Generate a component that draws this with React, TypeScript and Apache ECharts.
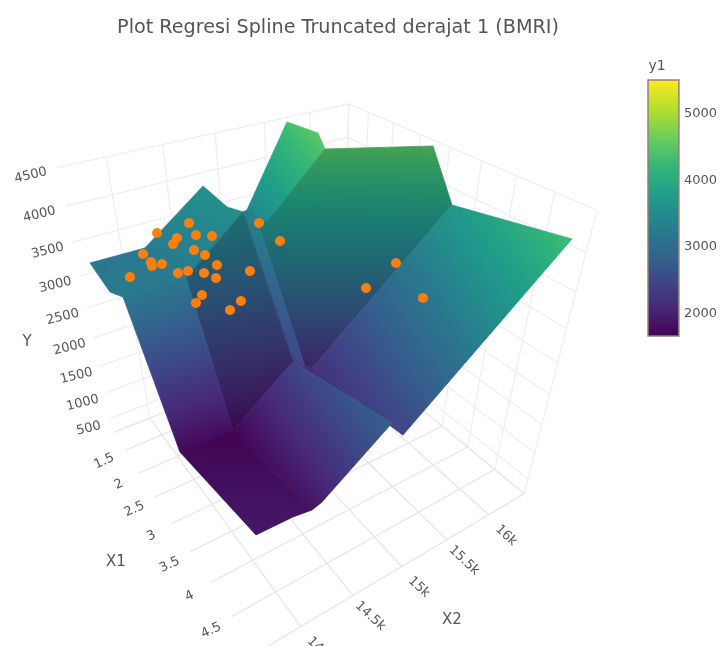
import React, { useEffect, useRef } from "react";
import * as echarts from "echarts";

const chartTitle = "Plot Regresi Spline Truncated derajat 1 (BMRI)";
const x1Ticks = [1.5, 2, 2.5, 3, 3.5, 4, 4.5, 5];
const x1TickLabels = ["1.5", "2", "2.5", "3", "3.5", "4", "4.5"];
const x2Ticks = [14000, 14500, 15000, 15500, 16000];
const x2TickLabels = ["14k", "14.5k", "15k", "15.5k", "16k"];
const yTicks = [500, 1000, 1500, 2000, 2500, 3000, 3500, 4000, 4500];
const colorbarTicks = [2000, 3000, 4000, 5000];
const colorMin = 1655;
const colorMax = 5480;
const viridis = ["#440154", "#482878", "#3e4989", "#31688e", "#26828e", "#1f9e89", "#35b779", "#6ece58", "#b5de2b", "#fde725"];

// Axis box in data units
const x1Range = [1.08, 5.0];
const x2Range = [13600, 16450];
const yRange = [210, 4500];

// Fitted surface: breakpoints of the spline
const surfaceX1 = [1.168, 1.846, 2.026, 3.316, 4.852, 1.264, 2.11, 3.281, 4.824, 0.769, 1.062, 1.391, 3.297, 4.951, 1.604, 3.252, 3.254, 4.956, 1.283, 0.882, 1.453, 1.955, 2.509, 3.114, 4.944, 1.801, 4.815, 4.892];
const surfaceX2 = [13688, 13673, 13732, 13683, 13721, 14168, 14263, 14168, 14186, 14944, 15072, 15110, 14749, 14777, 15166, 14888, 14968, 14887, 15195, 15833, 15903, 15725, 16606, 16476, 16308, 15186, 14031, 14235];
const surfaceY = [3200, 3150, 3150, 1750, 1950, 3250, 3200, 1700, 1850, 3650, 3400, 3450, 2400, 2750, 3400, 2200, 2150, 2500, 3400, 4350, 4350, 4350, 4300, 3750, 4200, 3450, 1880, 2000];

// Facets of the surface, far to near: vertex numbers, y1 colour values, light factor
const facetVertices = [
  [25, 18, 19, 20, 21],
  [14, 11, 18, 25],
  [16, 15, 14, 25, 21, 22, 23],
  [15, 16, 17, 13, 12],
  [23, 24, 17, 16],
  [6, 5, 9, 10, 11],
  [2, 1, 0, 5, 6],
  [11, 14, 15, 12],
  [6, 11, 12, 7],
  [2, 6, 7, 3],
  [7, 12, 13, 27, 8],
  [3, 7, 8, 26, 4],
];
const facetColors = [
  [3480, 3450, 4320, 4480, 4450],
  [3400, 3400, 3450, 3480],
  [2150, 2200, 3600, 3650, 4500, 4500, 3800],
  [2150, 2150, 2500, 2700, 2300],
  [3750, 4250, 2500, 2150],
  [3250, 3200, 3650, 3500, 3500],
  [3200, 3200, 3200, 3200, 3250],
  [3300, 3300, 2450, 2450],
  [3100, 3400, 2300, 1700],
  [3150, 3200, 1750, 1750],
  [1700, 2450, 2850, 1950, 1880],
  [1730, 1680, 1850, 1880, 1930],
];
const facetLight = [1, 0.95, 0.82, 0.95, 1, 1, 1, 1.0, 0.8, 1, 1, 0.97];

// Observed points (BMRI)
const pointX1 = [1.431, 0.987, 0.552, 1.232, 1.331, 1.354, 1.662, 1.685, 0.952, 0.829, 0.52, 0.891, 1.033, 1.248, 1.442, 1.75, 1.835, 2.019, 2.099, 2.269, 2.383, 2.721, 2.626, 1.047, 1.646, 3.181, 2.919, 3.707];
const pointX2 = [13954, 14213, 14492, 14213, 14191, 14280, 14330, 14418, 14524, 14607, 14843, 14784, 14902, 14634, 14675, 14679, 14519, 14566, 14870, 14339, 14242, 14423, 14563, 15415, 15386, 15538, 16019, 15830];
const pointY = [3000, 3000, 3000, 3000, 3000, 3000, 3000, 3000, 3000, 3000, 3000, 3000, 3000, 3000, 3000, 3000, 3000, 3000, 3000, 3000, 3000, 3000, 3000, 3000, 3000, 3000, 3000, 3000];

// Camera calibration: [x1, x2, y] of box landmarks → screen pixel
const [A1, B1] = x1Range;
const [A2, B2] = x2Range;
const F = yRange[0];
const calib: number[][] = [
  [A1, A2, 4500, 57, 167], [A1, A2, 4000, 65, 207], [A1, A2, 3500, 73, 242], [A1, A2, 3000, 80, 276], [A1, A2, 2500, 87, 307],
  [A1, A2, 2000, 93, 338], [A1, A2, 1500, 100, 367], [A1, A2, 1000, 106, 393], [A1, A2, 500, 112, 418],
  [1.5, A2, F, 123, 450], [2, A2, F, 137, 473], [2.5, A2, F, 155, 497], [3, A2, F, 172, 523], [3.5, A2, F, 190, 552], [4, A2, F, 210, 583], [4.5, A2, F, 233, 617],
  [B1, 14000, F, 300, 627], [B1, 14500, F, 355, 595], [B1, 15000, F, 403, 567], [B1, 15500, F, 447, 540], [B1, 16000, F, 488, 515], [B1, B2, F, 523, 493],
  [A1, B2, 4500, 349, 104], [B1, B2, 4500, 597, 210], [A1, B2, 4000, 349, 138], [B1, B2, 4000, 585, 252],
];

function gauss(M: number[][]): number[] {
  const n = M.length;
  for (let c = 0; c < n; c++) {
    let p = c;
    for (let r = c + 1; r < n; r++) if (Math.abs(M[r][c]) > Math.abs(M[p][c])) p = r;
    [M[c], M[p]] = [M[p], M[c]];
    for (let r = 0; r < n; r++)
      if (r !== c) {
        const f = M[r][c] / M[c][c];
        for (let k = c; k <= n; k++) M[r][k] -= f * M[c][k];
      }
  }
  return M.map((r, i) => r[n] / r[i]);
}

function solveCamera(): number[] {
  const n = 11;
  const M = Array.from({ length: n }, () => new Array(n + 1).fill(0));
  const add = (r: number[], t: number) => {
    for (let i = 0; i < n; i++) {
      for (let j = 0; j < n; j++) M[i][j] += r[i] * r[j];
      M[i][n] += r[i] * t;
    }
  };
  calib.forEach(([a, b, c, px, py]) => {
    const x = a, y = b / 1000, z = c / 1000, u = px / 100, v = py / 100;
    add([x, y, z, 1, 0, 0, 0, 0, -u * x, -u * y, -u * z], u);
    add([0, 0, 0, 0, x, y, z, 1, -v * x, -v * y, -v * z], v);
  });
  return gauss(M);
}
const cam = solveCamera();
const project = (x1: number, x2: number, y: number): [number, number] => {
  const x = x1, b = x2 / 1000, z = y / 1000;
  const w = cam[8] * x + cam[9] * b + cam[10] * z + 1;
  return [(100 * (cam[0] * x + cam[1] * b + cam[2] * z + cam[3])) / w, (100 * (cam[4] * x + cam[5] * b + cam[6] * z + cam[7])) / w];
};

const hexRgb = (h: string) => [parseInt(h.slice(1, 3), 16), parseInt(h.slice(3, 5), 16), parseInt(h.slice(5, 7), 16)];
const stops = viridis.map(hexRgb);
const colorOf = (val: number, light: number) => {
  const t = Math.min(1, Math.max(0, (val - colorMin) / (colorMax - colorMin))) * (stops.length - 1);
  const i = Math.min(stops.length - 2, Math.floor(t));
  const f = t - i;
  const ch = (k: number) => Math.min(255, Math.round((stops[i][k] * (1 - f) + stops[i + 1][k] * f) * light));
  return `rgb(${ch(0)},${ch(1)},${ch(2)})`;
};

// A flat facet's colour is close to linear on screen: fit that plane, fill with one linear gradient
function facetFill(pts: number[][], vals: number[], light: number) {
  const m = [0, 0, 0, 0];
  const M = [m.slice(), m.slice(), m.slice()];
  const ox = pts[0][0], oy = pts[0][1];
  pts.forEach((p, i) => {
    const r = [1, (p[0] - ox) / 100, (p[1] - oy) / 100];
    for (let a = 0; a < 3; a++) {
      for (let b = 0; b < 3; b++) M[a][b] += r[a] * r[b];
      M[a][3] += r[a] * vals[i];
    }
  });
  const [c0, c1, c2] = gauss(M);
  const gx = c1 / 100, gy = c2 / 100;
  const g2 = gx * gx + gy * gy;
  const fitted = pts.map((p) => c0 + gx * (p[0] - ox) + gy * (p[1] - oy));
  const vmin = Math.min(...fitted), vmax = Math.max(...fitted);
  const N = 12;
  return {
    type: "linear",
    global: true,
    x: ox + (gx * (vmin - c0)) / g2,
    y: oy + (gy * (vmin - c0)) / g2,
    x2: ox + (gx * (vmax - c0)) / g2,
    y2: oy + (gy * (vmax - c0)) / g2,
    colorStops: Array.from({ length: N + 1 }, (_, i) => ({ offset: i / N, color: colorOf(vmin + ((vmax - vmin) * i) / N, light) })),
  };
}

function renderFacet(params: any, api: any) {
  const verts = facetVertices[params.dataIndex];
  const pts = verts.map((v) => api.coord(project(surfaceX1[v], surfaceX2[v], surfaceY[v])));
  const fill = facetFill(pts, facetColors[params.dataIndex], facetLight[params.dataIndex]);
  return { type: "polygon", shape: { points: pts }, style: { fill, stroke: fill, lineWidth: 0.8, lineJoin: "round" }, silent: true };
}

// Box grid lines: [x1, x2, y, x1, x2, y]
const top = yRange[1];
const gridLines: number[][] = [];
[x1Range[0], ...x1Ticks].forEach((t) => {
  gridLines.push([t, A2, F, t, B2, F]);
  gridLines.push([t, B2, F, t, B2, top]);
});
[...x2Ticks, x2Range[1]].forEach((t) => {
  gridLines.push([A1, t, F, B1, t, F]);
  gridLines.push([A1, t, F, A1, t, top]);
});
yTicks.forEach((t) => {
  gridLines.push([A1, A2, t, A1, B2, t]);
  gridLines.push([A1, B2, t, B1, B2, t]);
});
function renderGridLine(_: any, api: any) {
  const a = api.coord(project(api.value(0), api.value(1), api.value(2)));
  const b = api.coord(project(api.value(3), api.value(4), api.value(5)));
  const onFloor = api.value(2) === F && api.value(5) === F;
  return { type: "line", shape: { x1: a[0], y1: a[1], x2: b[0], y2: b[1] }, style: { stroke: onFloor ? "#e8e8e8" : "#eeeeee", lineWidth: onFloor ? 1.4 : 1.2 }, silent: true };
}

// Tick labels anchored to the projected tick with an offset off the axis
type TickLabel = { at: [number, number, number]; text: string; dx: number; dy: number; deg: number };
const tickLabels: TickLabel[] = [
  ...yTicks.map((t) => ({ at: [A1, A2, t] as [number, number, number], text: String(t), dx: -27 + ((4500 - t) / 4000) * 5, dy: 7 + ((4500 - t) / 4000) * 2, deg: 14 })),
  ...x1TickLabels.map((s, i) => ({ at: [x1Ticks[i], A2, F] as [number, number, number], text: s, dx: -21, dy: 10 + i * 0.5, deg: 25 })),
  ...x2Ticks.map((t, i) => ({ at: [B1, t, F] as [number, number, number], text: x2TickLabels[i], dx: 18, dy: 20, deg: -43 })),
];
function renderTick(params: any, api: any) {
  const l = tickLabels[params.dataIndex];
  const p = api.coord(project(l.at[0], l.at[1], l.at[2]));
  return {
    type: "text",
    x: p[0] + l.dx,
    y: p[1] + l.dy,
    rotation: (l.deg * Math.PI) / 180,
    style: { text: l.text, fill: "#555", font: "13px 'DejaVu Sans'", align: "center", verticalAlign: "middle" },
    silent: true,
  };
}

function renderColorbar(_: any, api: any) {
  const a = api.coord([0, colorMax]);
  const b = api.coord([1, colorMin]);
  return {
    type: "rect",
    shape: { x: a[0], y: a[1], width: b[0] - a[0], height: b[1] - a[1] },
    style: {
      fill: { type: "linear", x: 0, y: 1, x2: 0, y2: 0, colorStops: viridis.map((c, i) => ({ offset: i / (viridis.length - 1), color: c })) },
      stroke: "#8c8478",
      lineWidth: 1.5,
    },
    silent: true,
  };
}

const axisTitle = (text: string, x: number, y: number, size = 15) => ({
  type: "text" as const,
  x,
  y,
  silent: true,
  style: { text, fill: "#555", font: `${size}px 'DejaVu Sans'`, align: "center", verticalAlign: "middle" },
});

export default function App() {
  const ref = useRef<HTMLDivElement>(null);
  useEffect(() => {
    const chart = echarts.init(ref.current!, undefined, { renderer: "svg" });
    chart.setOption({
      animation: false,
      backgroundColor: "#fff",
      title: {
        text: chartTitle,
        left: 333,
        top: 12,
        textAlign: "center",
        textStyle: { fontFamily: "DejaVu Sans", fontSize: 19.2, fontWeight: "normal", color: "#555" },
      },
      grid: [
        { left: 0, top: 0, width: 720, height: 646 },
        { left: 648, top: 80, width: 34, height: 256 },
      ],
      xAxis: [
        { type: "value", min: 0, max: 720, show: false, gridIndex: 0 },
        { type: "value", min: 0, max: 1, show: false, gridIndex: 1 },
      ],
      yAxis: [
        { type: "value", min: 0, max: 646, inverse: true, show: false, gridIndex: 0 },
        {
          type: "value",
          min: colorMin,
          max: colorMax,
          gridIndex: 1,
          position: "right",
          splitLine: { show: false },
          axisLine: { show: false },
          axisTick: { show: true, length: 3, customValues: colorbarTicks, lineStyle: { color: "#777" } },
          axisLabel: { customValues: colorbarTicks, margin: 5, fontFamily: "DejaVu Sans", fontSize: 13, color: "#555", formatter: (v: number) => String(v) },
        },
      ],
      graphic: [axisTitle("Y", 27, 341), axisTitle("X1", 116, 561), axisTitle("X2", 452, 619), axisTitle("y1", 657, 65, 14)],
      series: [
        { type: "custom", silent: true, coordinateSystem: "cartesian2d", xAxisIndex: 0, yAxisIndex: 0, renderItem: renderGridLine, data: gridLines, z: 1 },
        { type: "custom", silent: true, coordinateSystem: "cartesian2d", xAxisIndex: 0, yAxisIndex: 0, renderItem: renderFacet, data: facetVertices.map((_, i) => [i]), z: 2 },
        {
          type: "scatter",
          silent: true,
          xAxisIndex: 0,
          yAxisIndex: 0,
          symbolSize: 10,
          itemStyle: { color: "#ff7f0e", opacity: 1 },
          data: pointX1.map((x, i) => project(x, pointX2[i], pointY[i])),
          z: 3,
        },
        { type: "custom", silent: true, coordinateSystem: "cartesian2d", xAxisIndex: 0, yAxisIndex: 0, renderItem: renderTick, data: tickLabels.map((_, i) => [i]), z: 4 },
        { type: "custom", silent: true, coordinateSystem: "cartesian2d", xAxisIndex: 1, yAxisIndex: 1, renderItem: renderColorbar, data: [[0, colorMin, 1, colorMax]], z: 2 },
      ],
    });
    return () => chart.dispose();
  }, []);
  return <div ref={ref} style={{ position: "fixed", left: 0, top: 0, width: 720, height: 646, filter: "blur(0.35px)" }} />;
}
